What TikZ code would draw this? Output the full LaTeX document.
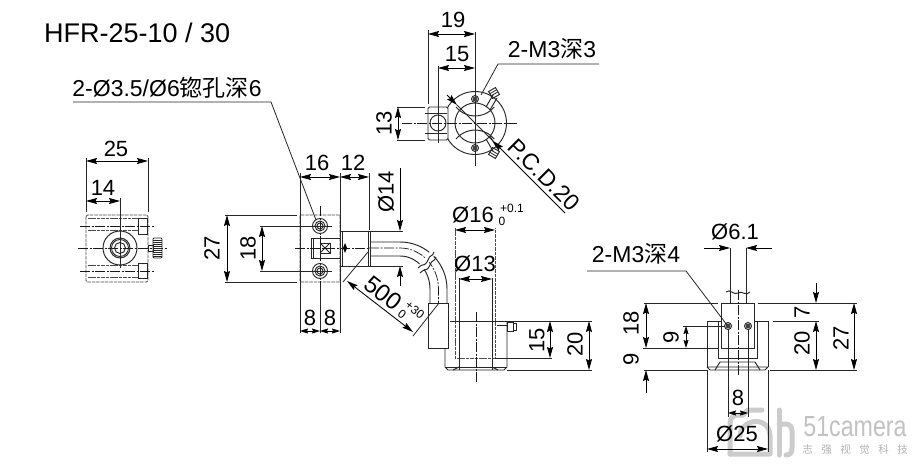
\documentclass[tikz,border=0pt]{standalone}
\usepackage{fontspec}
\setmainfont{Liberation Sans}
\newfontfamily\cjk{Noto Sans CJK SC}
\usetikzlibrary{arrows.meta}
\tikzset{
  x=1pt,y=-1pt,
  ln/.style={line width=0.95pt,draw=black!85},
  thin ln/.style={line width=0.8pt,draw=black!85},
  hid/.style={line width=0.9pt,draw=black!70,dash pattern=on 3.5pt off 0.9pt},
  ctr/.style={line width=0.7pt,draw=black!90,dash pattern=on 10pt off 1.5pt on 2pt off 1.5pt},
  dim/.style={line width=0.85pt,draw=black,{Stealth[length=11pt,width=6pt,inset=1.5pt]}-{Stealth[length=11pt,width=6pt,inset=1.5pt]}},
  sdim/.style={line width=0.85pt,draw=black,{Stealth[length=8pt,width=5pt,inset=1pt]}-{Stealth[length=8pt,width=5pt,inset=1pt]}},
  tip/.style={line width=0.85pt,draw=black,-{Stealth[length=11pt,width=6pt,inset=1.5pt]}},
  lab/.style={font=\fontsize{22}{22}\selectfont,inner sep=0pt,text=black},
  cjklab/.style={font=\fontsize{23}{24}\selectfont,inner sep=0pt,text=black},
  small/.style={font=\fontsize{12}{12}\selectfont,inner sep=0pt,text=black},
  wm/.style={draw=black!20,line width=5pt,line cap=round,line join=round},
}
\begin{document}
\begin{tikzpicture}
\useasboundingbox (0,0) rectangle (918,468);
\fill[white] (0,0) rectangle (918,468);
% watermark
\draw[wm] (730,454) -- (730,424) .. controls (730,418) and (733,415) .. (738,415) -- (743,415) -- (748,410) -- (762,410);
\draw[wm] (730,454) -- (770,454) -- (770,436) .. controls (770,424) and (760,420) .. (752,422) .. controls (744,424) and (740,430) .. (740,436);
\draw[wm] (779,410) -- (779,455);
\draw[wm] (779,424) -- (785,424) .. controls (790,424) and (792,427) .. (792,431) -- (792,448) .. controls (792,453) and (790,455) .. (786,455);
\node[inner sep=0pt,text=black!24,font=\fontsize{29}{29}\selectfont] (wmA) at (855,427) {\scalebox{.8}[1]{51camera}};
\node[inner sep=0pt,text=black!30,font=\cjk\fontsize{10.5}{11}\selectfont] (wmB) at (855,450) {志\hspace{8.5pt}强\hspace{8.5pt}视\hspace{8.5pt}觉\hspace{8.5pt}科\hspace{8.5pt}技};

% title
\node[anchor=west,inner sep=0pt,font=\fontsize{27}{27}\selectfont,text=black] (title) at (44,33) {HFR-25-10 / 30};

% ===== left view
\draw[hid,rounded corners=1.5pt] (86,215) rectangle (148,282);
\foreach \yy in {218,230,265,277} \draw[hid] (88,\yy) -- (138,\yy);
\draw[ln] (138,218) rectangle (147,234);
\draw[ln] (138,263) rectangle (147,278);
\draw[ctr] (80,226) -- (154,226);
\draw[ctr] (80,271) -- (154,271);
\draw[ctr] (78,248) -- (167,248);
\draw[ln] (120,248) circle (17);
\draw[ln] (120,248) circle (10);
\draw[ln] (120,248) circle (8.5);
\draw[ln] (120,248) circle (5.5);
\draw[ln] (148,245) rectangle (153,251);
\draw[ln,rounded corners=1pt] (153,238) rectangle (162,258);
\foreach \yy in {240,242,...,256} \draw[thin ln] (153,\yy) -- (162,\yy);
\draw[thin ln] (86,158) -- (86,212);
\draw[thin ln] (148,158) -- (148,212);
\draw[thin ln] (120,198) -- (120,268);
\draw[dim] (86,161) -- (148,161);
\draw[dim] (86,201) -- (120,201);
\node[lab] (d25) at (116,149) {25};
\node[lab] (d14) at (103,188) {14};

% ===== side view
\draw[hid,rounded corners=1pt] (300,215) rectangle (340,282);
\draw[thin ln] (300,173) -- (300,333);
\draw[thin ln] (340,173) -- (340,333);
\draw[thin ln] (369,173) -- (369,230);
\draw[thin ln] (320,285) -- (320,333);
\draw[ctr] (320,206) -- (320,285);
\draw[thin ln] (225,215) -- (297,215);
\draw[thin ln] (225,282) -- (297,282);
\draw[thin ln] (260,226) -- (332,226);
\draw[thin ln] (260,271) -- (332,271);
\foreach \yy in {226,271} {
  \draw[ln] (320,\yy) circle (7.5);
  \draw[ln] (320,\yy) circle (5);
  \draw[ln] (320,\yy) circle (3);
}
\draw[ln] (311,238) -- (340,238) (311,258) -- (340,258) (311,238) -- (311,258) (313,238) -- (313,258);
\draw[ln] (320,243) rectangle (330,253);
\draw[ln] (320,243) -- (330,253) (320,253) -- (330,243);
\draw[ctr] (295,248) -- (369,248);
\draw[ln] (340,231) rectangle (368,266);
\draw[ln] (342,231) -- (342,266);
\draw[ln] (370,231) -- (370,266);
\fill[black] (345,243) -- (347,248) -- (345,253) -- (343,248) -- cycle;
% cable
\draw[ln] (370,242) -- (400,242) arc[start angle=-90,end angle=0,x radius=47,y radius=47] -- (447,303);
\draw[ln] (370,256) -- (400,256) arc[start angle=-90,end angle=0,x radius=30,y radius=33] -- (430,303);
\draw[ctr] (369,248) -- (400,248) arc[start angle=-90,end angle=0,x radius=38.5,y radius=41] -- (438.5,303);
\draw[ln] (369,231) -- (403,231);
\draw[ln] (369,266) -- (403,266);
\fill[white] (418,266) -- (433,248) -- (436,253) -- (421,273) -- cycle;
\draw[ln] (418,268) .. controls (424,262) and (424,268) .. (428,260) .. controls (431,253) and (432,258) .. (434,252);
\draw[ln] (420,273) .. controls (426,267) and (426,273) .. (430,265) .. controls (433,258) and (434,263) .. (436,257);
% box
\draw[ln,fill=white] (428,303) rectangle (448,348);
\draw[thin ln] (413,336) -- (439,303);
\draw[thin ln] (343,282) -- (368,252);
\draw[dim] (347,281) -- (413,332);
\draw[dim] (262,226) -- (262,271);
\draw[dim] (227,215) -- (227,282);
\draw[dim] (300,177) -- (340,177);
\draw[dim] (340,177) -- (369,177);
\draw[tip] (400,168) -- (400,231);
\draw[tip] (400,286) -- (400,266);
\draw[sdim] (300,331) -- (320,331);
\draw[sdim] (320,331) -- (340,331);
\node[lab] (d16) at (317,163) {16};
\node[lab] (d12) at (353,163) {12};
\node[lab,rotate=90] (d27a) at (212,248) {27};
\node[lab,rotate=90] (d18a) at (248,248) {18};
\node[lab,rotate=90] (d14b) at (386,192) {Ø14};
\node[lab] (d8a) at (310,318) {8};
\node[lab] (d8b) at (330,318) {8};
\node[lab,font=\fontsize{24}{24}\selectfont,rotate=-38] (d500) at (383,293) {500};
\node[small,rotate=-38] (d500a) at (402,314) {0};
\node[small,rotate=-38] (d500b) at (415,310) {+30};
% leader
\node[cjklab] (lead1) at (167,88) {2-Ø3.5/Ø6{\cjk 锪孔深}6};
\coordinate (l1a) at (73,102);
\coordinate (l1b) at (271,102);
\coordinate (l1c) at (316,220);
\draw[thin ln] (l1a) -- (l1b) -- (l1c);

% ===== section view
\draw[hid] (455,228) -- (455,358) -- (495,358) -- (495,228);
\draw[ln] (445,348) -- (445,367) -- (448,370) -- (504,370) -- (507,367) -- (507,321);
\draw[ln] (445,367) -- (507,367);
\draw[ln] (459,278) -- (459,370);
\draw[ln] (492,278) -- (492,370);
\draw[ln] (453,370) -- (459,367) (498,370) -- (492,367);
\draw[thin ln] (450,321) -- (592,321);
\draw[thin ln] (495,358) -- (552,358);
\draw[thin ln] (507,370) -- (592,370);
\draw[ctr] (476,312) -- (476,383);
\draw[ln] (497,325) -- (507,325);
\draw[ln] (507,322) rectangle (513,331);
\draw[ln] (513,323) -- (516,323) -- (516,330) -- (513,330);
\draw[dim] (455,230) -- (495,230);
\draw[dim] (459,279) -- (492,279);
\draw[dim] (550,321) -- (550,358);
\draw[dim] (589,321) -- (589,370);
\node[lab] (d16b) at (473,215) {Ø16};
\node[small] (d16c) at (512,208) {+0.1};
\node[small] (d16d) at (502,221) {0};
\node[lab] (d13) at (475,264) {Ø13};
\node[lab,rotate=90] (d15) at (537,340) {15};
\node[lab,rotate=90] (d20) at (575,344) {20};

% ===== top view
\draw[ln] (475,123) circle (31.5);
\draw[ln] (475,123) circle (20);
\draw[ln,rounded corners=1.5pt,fill=white] (428,107) -- (448,107) -- (448,140) -- (428,140) -- cycle;
\draw[ln] (425,113) -- (447,113) (425,133) -- (447,133);
\draw[ln] (438,123) circle (8);
\draw[ln] (456,107) arc[start angle=140,end angle=40,radius=25];
\draw[ln] (456,139) arc[start angle=220,end angle=320,radius=25];
\draw[ctr] (402,123) -- (518,123);
\draw[thin ln] (475,32) -- (475,166);
\draw[thin ln] (428,30) -- (428,104);
\draw[thin ln] (438,66) -- (438,143);
\draw[thin ln] (397,107) -- (425,107);
\draw[thin ln] (397,140) -- (425,140);
\foreach \yy in {99,148} {
  \draw[ln] (475,\yy) circle (3.5);
  \fill[black!75] (475,\yy) circle (2.4);
}
\draw[ln] (486,107) -- (493,95) (490,110) -- (497,98);
\begin{scope}[rotate around={30:(494,93)}]
\draw[ln] (490,89) rectangle (498,97);
\draw[thin ln] (490,91.5) -- (498,91.5) (490,94) -- (498,94);
\end{scope}
\draw[ln] (486,139) -- (493,151) (490,136) -- (497,148);
\begin{scope}[rotate around={-30:(494,153)}]
\draw[ln] (490,149) rectangle (498,157);
\draw[thin ln] (490,152) -- (498,152) (490,154.5) -- (498,154.5);
\end{scope}
\draw[thin ln] (475,123) -- (457,105);
\draw[thin ln] (475,123) -- (493,141);
\coordinate (p1) at (447,95);
\coordinate (p2) at (457,105);
\coordinate (p3) at (493,141);
\coordinate (p4) at (565,213);
\draw[tip] (p1) -- (p2);
\draw[tip] (p4) -- (p3);
\draw[dim] (428,34) -- (475,34);
\draw[dim] (438,68) -- (475,68);
\draw[dim] (398,107) -- (398,140);
\node[lab] (d19) at (453,20) {19};
\node[lab] (d15b) at (457,54) {15};
\node[lab,rotate=90] (d13b) at (384,123) {13};
\node[lab,font=\fontsize{23}{23}\selectfont,rotate=-45] (pcd) at (544,175) {P.C.D.20};
\node[cjklab] (lead2) at (552,49) {2-M3{\cjk 深}3};
\coordinate (l2a) at (481,95);
\coordinate (l2b) at (498,64);
\coordinate (l2c) at (599,64);
\draw[thin ln] (l2a) -- (l2b) -- (l2c);

% ===== right view
\draw[ln] (707,321) -- (707,367) (768,321) -- (768,367);
\draw[ln] (707,321) -- (721,321) (754,321) -- (768,321);
\draw[ln] (718,321) -- (718,358) -- (757,358) -- (757,321);
\draw[ln] (721,303) -- (721,348) -- (754,348) -- (754,303) -- cycle;
\draw[ln] (707,367) -- (768,367) (707,367) -- (710,370) -- (765,370) -- (768,367);
\draw[ln] (715,370) -- (720,362) -- (755,362) -- (760,370);
\draw[ctr] (738,290) -- (738,375);
\draw[thin ln] (730,248) -- (730,303) (746,248) -- (746,303);
\draw[ln] (726,292) .. controls (730,288) and (734,296) .. (738,293) .. controls (742,290) and (746,297) .. (750,292);
\draw[thin ln] (644,303) -- (718,303);
\draw[thin ln] (758,303) -- (857,303);
\draw[thin ln] (643,348) -- (718,348);
\draw[thin ln] (644,370) -- (707,370);
\draw[thin ln] (770,370) -- (857,370);
\draw[thin ln] (773,321) -- (819,321);
\draw[thin ln] (683,326) -- (725,326);
\foreach \xx in {728,748} {
  \draw[ln] (\xx,326) circle (3.5);
  \fill[black!75] (\xx,326) circle (2.4);
}
\draw[thin ln] (728,329) -- (728,417);
\draw[thin ln] (748,329) -- (748,417);
\draw[thin ln] (707,370) -- (707,452);
\draw[thin ln] (768,370) -- (768,452);
\draw[tip] (704,248) -- (730,248);
\draw[tip] (772,248) -- (746,248);
\draw[dim] (646,303) -- (646,348);
\draw[tip] (646,393) -- (646,370);
\draw[sdim] (686,326) -- (686,348);
\draw[tip] (816,283) -- (816,303);
\draw[dim] (816,321) -- (816,370);
\draw[dim] (854,303) -- (854,370);
\draw[sdim] (728,413) -- (748,413);
\draw[dim] (707,449) -- (768,449);
\node[lab] (d61) at (735,232) {Ø6.1};
\node[cjklab] (lead3) at (636,254) {2-M3{\cjk 深}4};
\coordinate (l3a) at (587,271);
\coordinate (l3b) at (686,271);
\coordinate (l3c) at (727,325);
\draw[thin ln] (l3a) -- (l3b) -- (l3c);
\node[lab,rotate=90] (d18r) at (631,323) {18};
\node[lab,rotate=90] (d9a) at (631,359) {9};
\node[lab,rotate=90] (d9b) at (671,337) {9};
\node[lab,rotate=90] (d7) at (802,312) {7};
\node[lab,rotate=90] (d20r) at (802,343) {20};
\node[lab,rotate=90] (d27r) at (841,338) {27};
\node[lab] (d8r) at (738,398) {8};
\node[lab] (d25r) at (737,434) {Ø25};
\end{tikzpicture}
\end{document}
